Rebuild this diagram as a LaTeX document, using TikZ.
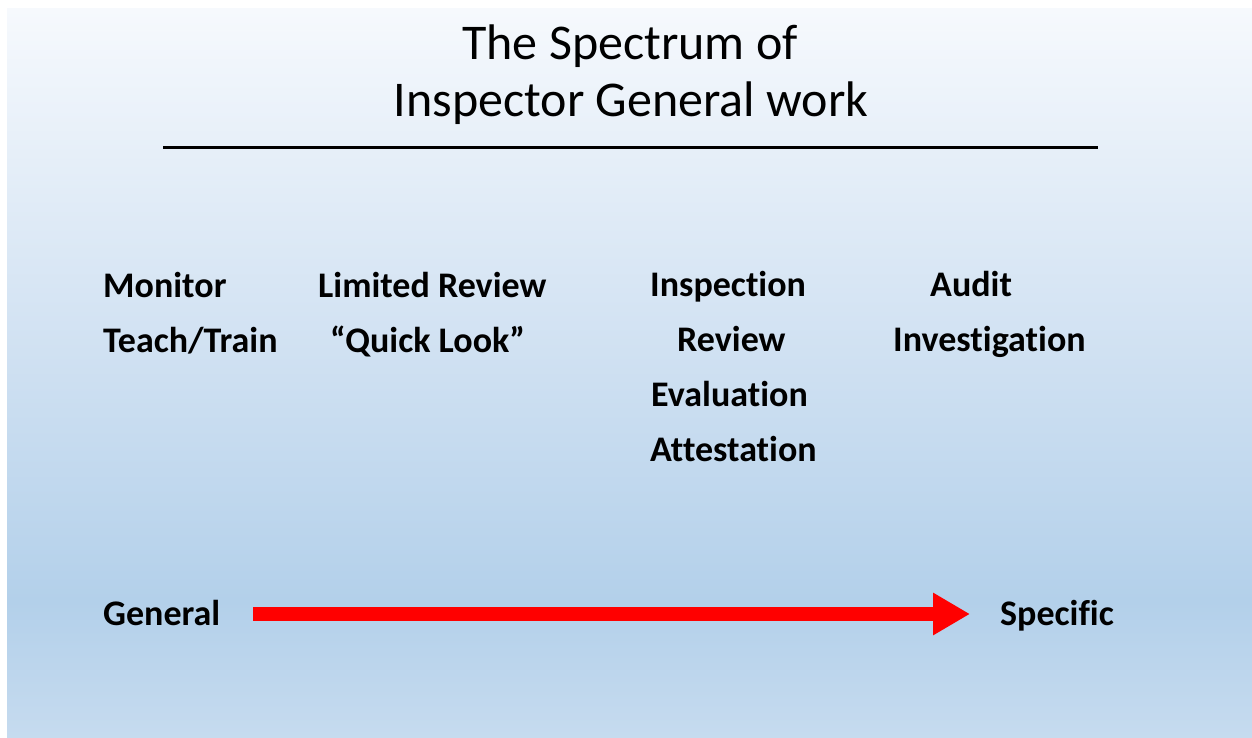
\documentclass[tikz,border=0pt]{standalone}
\usepackage{fontspec}
\setmainfont{Carlito}[Ligatures=NoCommon]
\usetikzlibrary{arrows.meta}
\definecolor{bgbot}{HTML}{C6DBEF}
\definecolor{bgdark}{HTML}{B3D0EA}
\definecolor{bgmid}{HTML}{D0E1F2}
\definecolor{bgtop}{HTML}{F6F9FD}
\pgfdeclareverticalshading{slidebg}{100bp}{color(0bp)=(bgbot); color(25bp)=(bgbot); color(34.4bp)=(bgdark); color(51.5bp)=(bgmid); color(75bp)=(bgtop); color(100bp)=(bgtop)}
\tikzset{
  titletext/.style={anchor=base, inner sep=0pt, font=\fontsize{50}{60}\selectfont},
  itemtext/.style={anchor=base west, inner sep=0pt, font=\bfseries\fontsize{36}{43}\selectfont},
}
\begin{document}
\begin{tikzpicture}[x=1pt,y=1pt]
\useasboundingbox (0,0) rectangle (1252,-738);
\fill[white] (0,0) rectangle (1252,-738);
\shade[shading=slidebg] (7,-9) rectangle (1252,-738);
\node[titletext] (t1) at (630,-60) {The Spectrum of};
\node[titletext] (t2) at (631,-117) {Inspector General work};
\draw[line width=3pt] (163,-148) -- (1098,-148);
\node[itemtext] (monitor) at (103,-297) {Monitor};
\node[itemtext] (teach) at (103,-352) {Teach/Train};
\node[itemtext] (limited) at (318,-297) {Limited Review};
\node[itemtext] (quick) at (330,-352) {“Quick Look”};
\node[itemtext] (insp) at (650,-296) {Inspection};
\node[itemtext] (review) at (677,-351) {Review};
\node[itemtext] (eval) at (651,-406) {Evaluation};
\node[itemtext] (attest) at (650,-461) {Attestation};
\node[itemtext] (audit) at (930,-296) {Audit};
\node[itemtext] (invest) at (893,-351) {Investigation};
\node[itemtext] (general) at (103,-625) {General};
\node[itemtext] (specific) at (1000,-625) {Specific};
\coordinate (as) at (253,-614);
\coordinate (ae) at (970,-614);
\draw[red, line width=14pt, -{Triangle[length=37pt,width=40pt]}] (as) -- (ae);
\end{tikzpicture}
\end{document}
